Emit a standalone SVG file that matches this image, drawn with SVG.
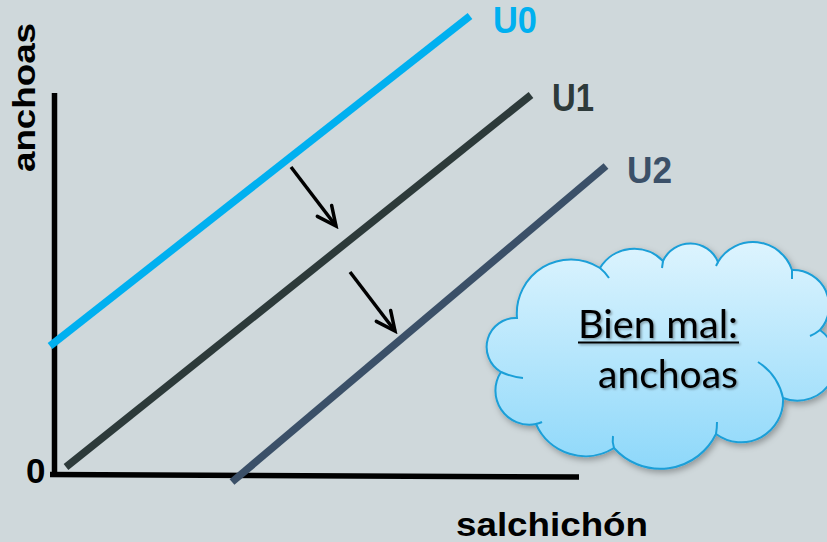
<svg xmlns="http://www.w3.org/2000/svg" width="827" height="542" viewBox="0 0 827 542">
  <defs>
    <linearGradient id="cloudFill" x1="0" y1="0" x2="0" y2="1">
      <stop offset="0" stop-color="#ddf4fe"/>
      <stop offset="1" stop-color="#8ed8fa"/>
    </linearGradient>
    <filter id="cloudShadow" x="-10%" y="-10%" width="130%" height="130%">
      <feDropShadow dx="2" dy="3" stdDeviation="3" flood-color="#000" flood-opacity="0.3"/>
    </filter>
    <filter id="textShadow" x="-10%" y="-20%" width="130%" height="150%">
      <feDropShadow dx="1.5" dy="1.5" stdDeviation="1.2" flood-color="#000" flood-opacity="0.35"/>
    </filter>
    <marker id="arrow" viewBox="0 0 26 26" refX="22" refY="13" markerWidth="26" markerHeight="26" markerUnits="userSpaceOnUse" orient="auto">
      <polyline points="3,4 22,13 3,22" fill="none" stroke="#000" stroke-width="3.5" stroke-linecap="round" stroke-linejoin="miter"/>
    </marker>
    <style>
      .axis { stroke:#000; stroke-width:5.5; fill:none; }
      .curve { stroke-width:7.5; fill:none; stroke-linecap:butt; }
      .lbl { font-family:"Liberation Sans", Arial, sans-serif; font-weight:bold; }
      .arr { stroke:#000; stroke-width:3.5; fill:none; marker-end:url(#arrow); }
      .cloudtxt { font-family:Lato, "Liberation Sans", sans-serif; font-size:39px; fill:#000; }
      .crease { fill:none; stroke:#1a9fd8; stroke-width:2; }
    </style>
  </defs>
  <rect width="827" height="542" fill="#cfd8db"/>

  <g id="axes">
    <line class="axis" x1="54.5" y1="93" x2="54.5" y2="477"/>
    <line class="axis" x1="50" y1="474.5" x2="579" y2="477"/>
    <text class="lbl" x="26" y="483" font-size="35" fill="#000">0</text>
    <text class="lbl" transform="translate(35,172) rotate(-90)" font-size="32" fill="#000" textLength="149" lengthAdjust="spacingAndGlyphs">anchoas</text>
    <text class="lbl" x="456" y="536" font-size="34" fill="#000" textLength="192" lengthAdjust="spacingAndGlyphs">salchichón</text>
  </g>

  <g id="U0">
    <line class="curve" x1="50" y1="346" x2="470" y2="16" stroke="#00b0f0"/>
    <text class="lbl" x="493" y="33" font-size="37" fill="#00b0f0" textLength="44" lengthAdjust="spacingAndGlyphs">U0</text>
  </g>
  <g id="U1">
    <line class="curve" x1="66" y1="467" x2="531" y2="95" stroke="#2d3a3a"/>
    <text class="lbl" x="552" y="111" font-size="38" fill="#2d3a3a" textLength="42" lengthAdjust="spacingAndGlyphs">U1</text>
  </g>
  <g id="U2">
    <line class="curve" x1="232" y1="482" x2="606" y2="166" stroke="#3b5068"/>
    <text class="lbl" x="627" y="183" font-size="37" fill="#3b5068" textLength="45" lengthAdjust="spacingAndGlyphs">U2</text>
  </g>

  <g id="connectors">
    <line class="arr" x1="291" y1="167" x2="336" y2="226"/>
    <line class="arr" x1="350" y1="272" x2="395" y2="331"/>
  </g>

  <g id="cloud">
    <path filter="url(#cloudShadow)" fill="url(#cloudFill)" stroke="#1a9fd8" stroke-width="2"
      d="M517,318 A54,54 0 0 1 600,268 A40,40 0 0 1 663,261 A30,30 0 0 1 718,262 A41,41 0 0 1 792,270 A36,36 0 0 1 820,330 A39,39 0 0 1 783,398 A42,42 0 0 1 716,434 A62,62 0 0 1 614,448 A54,54 0 0 1 536,424 A34,34 0 0 1 501,372 A29,29 0 0 1 517,318 Z"/>
    <path class="crease" d="M600,268 Q605,272 609,278"/>
    <path class="crease" d="M663,261 L662,268"/>
    <path class="crease" d="M718,262 L716,266"/>
    <path class="crease" d="M792,270 L792,279"/>
    <path class="crease" d="M820,330 Q815,334 810,336"/>
    <path class="crease" d="M783,398 Q778,375 758,362"/>
    <path class="crease" d="M716,434 Q717,428 717,422"/>
    <path class="crease" d="M614,448 Q612,442 613,436"/>
    <path class="crease" d="M536,424 Q540,423 542,422"/>
    <path class="crease" d="M501,372 Q512,377 523,378"/>
    <g filter="url(#textShadow)">
      <text class="cloudtxt" x="578" y="338" textLength="160" lengthAdjust="spacingAndGlyphs">Bien mal:</text>
      <line x1="578" y1="342.5" x2="739" y2="342.5" stroke="#000" stroke-width="2.2"/>
      <text class="cloudtxt" x="598" y="388" textLength="140" lengthAdjust="spacingAndGlyphs">anchoas</text>
    </g>
  </g>
</svg>
